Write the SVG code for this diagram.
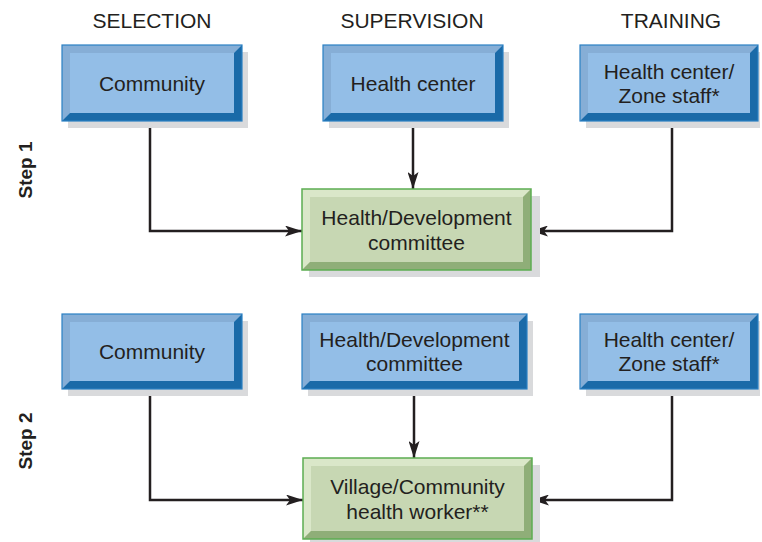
<svg xmlns="http://www.w3.org/2000/svg" width="762" height="542" viewBox="0 0 762 542">
<defs>
<style>
.sh{fill:#d9dadc}
.bf{fill:#93bee7}
.btl{fill:#86aed6}
.bbr{fill:#1a6aa8}
.bb{fill:none;stroke:#2b80c4;stroke-width:1.2}
.gf{fill:#c7d7b3}
.gtl{fill:#dae7c9}
.gbr{fill:#8fae78}
.gb{fill:none;stroke:#5cad52;stroke-width:1.5}
.t{font-family:"Liberation Sans",Arial,sans-serif;font-size:21px;fill:#231f20;text-anchor:middle}
.h{font-family:"Liberation Sans",Arial,sans-serif;font-size:21px;fill:#231f20;text-anchor:middle}
.s{font-family:"Liberation Sans",Arial,sans-serif;font-size:19px;font-weight:bold;fill:#231f20;text-anchor:middle}
.c{fill:none;stroke:#231f20;stroke-width:2.5}
</style>
<marker id="ah" viewBox="0 0 17 11" refX="17" refY="5.5" markerWidth="17" markerHeight="11" markerUnits="userSpaceOnUse" orient="auto">
<path d="M0,0 L17,5.5 L0,11 L4,5.5 Z" fill="#231f20"/>
</marker>
</defs>

<text class="h" x="152" y="28">SELECTION</text>
<text class="h" x="412" y="28">SUPERVISION</text>
<text class="h" x="671" y="28">TRAINING</text>
<text class="s" transform="translate(32,170) rotate(-90)">Step 1</text>
<text class="s" transform="translate(32,441) rotate(-90)">Step 2</text>

<g id="connectors">
<path class="c" d="M150,121 V231 H302" marker-end="url(#ah)"/>
<path class="c" d="M413,121 V189" marker-end="url(#ah)"/>
<path class="c" d="M672,121 V231 H531" marker-end="url(#ah)"/>
<path class="c" d="M150,389 V500 H303" marker-end="url(#ah)"/>
<path class="c" d="M414,389 V458" marker-end="url(#ah)"/>
<path class="c" d="M672,389 V500 H532" marker-end="url(#ah)"/>
</g>

<g id="sel1">
<rect class="sh" x="68" y="52" width="180" height="76"/>
<rect class="bf" x="62" y="45" width="180" height="76"/>
<path class="btl" d="M62,45 H242 L234,53 H70 Z M62,45 L70,53 V113 L62,121 Z"/>
<path class="bbr" d="M242,45 V121 L234,113 V53 Z M62,121 H242 L234,113 H70 Z"/>
<rect class="bb" x="62" y="45" width="180" height="76"/>
<text class="t" x="152" y="91">Community</text>
</g>

<g id="sup1">
<rect class="sh" x="329" y="52" width="180" height="76"/>
<rect class="bf" x="323" y="45" width="180" height="76"/>
<path class="btl" d="M323,45 H503 L495,53 H331 Z M323,45 L331,53 V113 L323,121 Z"/>
<path class="bbr" d="M503,45 V121 L495,113 V53 Z M323,121 H503 L495,113 H331 Z"/>
<rect class="bb" x="323" y="45" width="180" height="76"/>
<text class="t" x="413" y="91">Health center</text>
</g>

<g id="tr1">
<rect class="sh" x="586" y="52" width="174" height="76"/>
<rect class="bf" x="580" y="45" width="178" height="76"/>
<path class="btl" d="M580,45 H758 L750,53 H588 Z M580,45 L588,53 V113 L580,121 Z"/>
<path class="bbr" d="M758,45 V121 L750,113 V53 Z M580,121 H758 L750,113 H588 Z"/>
<rect class="bb" x="580" y="45" width="178" height="76"/>
<text class="t" x="669" y="79">Health center/</text>
<text class="t" x="669" y="103">Zone staff*</text>
</g>

<g id="com1">
<rect class="sh" x="309" y="196" width="231" height="81"/>
<rect class="gf" x="302" y="189" width="229" height="81"/>
<path class="gtl" d="M302,189 H531 L523,197 H310 Z M302,189 L310,197 V262 L302,270 Z"/>
<path class="gbr" d="M531,189 V270 L523,262 V197 Z M302,270 H531 L523,262 H310 Z"/>
<rect class="gb" x="302" y="189" width="229" height="81"/>
<text class="t" x="416.5" y="225">Health/Development</text>
<text class="t" x="416.5" y="250">committee</text>
</g>

<g id="sel2">
<rect class="sh" x="68" y="321" width="180" height="75"/>
<rect class="bf" x="62" y="314" width="180" height="75"/>
<path class="btl" d="M62,314 H242 L234,322 H70 Z M62,314 L70,322 V381 L62,389 Z"/>
<path class="bbr" d="M242,314 V389 L234,381 V322 Z M62,389 H242 L234,381 H70 Z"/>
<rect class="bb" x="62" y="314" width="180" height="75"/>
<text class="t" x="152" y="359">Community</text>
</g>

<g id="sup2">
<rect class="sh" x="308" y="321" width="225" height="75"/>
<rect class="bf" x="302" y="314" width="225" height="75"/>
<path class="btl" d="M302,314 H527 L519,322 H310 Z M302,314 L310,322 V381 L302,389 Z"/>
<path class="bbr" d="M527,314 V389 L519,381 V322 Z M302,389 H527 L519,381 H310 Z"/>
<rect class="bb" x="302" y="314" width="225" height="75"/>
<text class="t" x="414.5" y="347">Health/Development</text>
<text class="t" x="414.5" y="371">committee</text>
</g>

<g id="tr2">
<rect class="sh" x="586" y="321" width="174" height="75"/>
<rect class="bf" x="580" y="314" width="178" height="75"/>
<path class="btl" d="M580,314 H758 L750,322 H588 Z M580,314 L588,322 V381 L580,389 Z"/>
<path class="bbr" d="M758,314 V389 L750,381 V322 Z M580,389 H758 L750,381 H588 Z"/>
<rect class="bb" x="580" y="314" width="178" height="75"/>
<text class="t" x="669" y="347">Health center/</text>
<text class="t" x="669" y="371">Zone staff*</text>
</g>

<g id="chw2">
<rect class="sh" x="310" y="465" width="230" height="81"/>
<rect class="gf" x="303" y="458" width="229" height="81"/>
<path class="gtl" d="M303,458 H532 L524,466 H311 Z M303,458 L311,466 V531 L303,539 Z"/>
<path class="gbr" d="M532,458 V539 L524,531 V466 Z M303,539 H532 L524,531 H311 Z"/>
<rect class="gb" x="303" y="458" width="229" height="81"/>
<text class="t" x="417.5" y="494">Village/Community</text>
<text class="t" x="417.5" y="519">health worker**</text>
</g>
</svg>
